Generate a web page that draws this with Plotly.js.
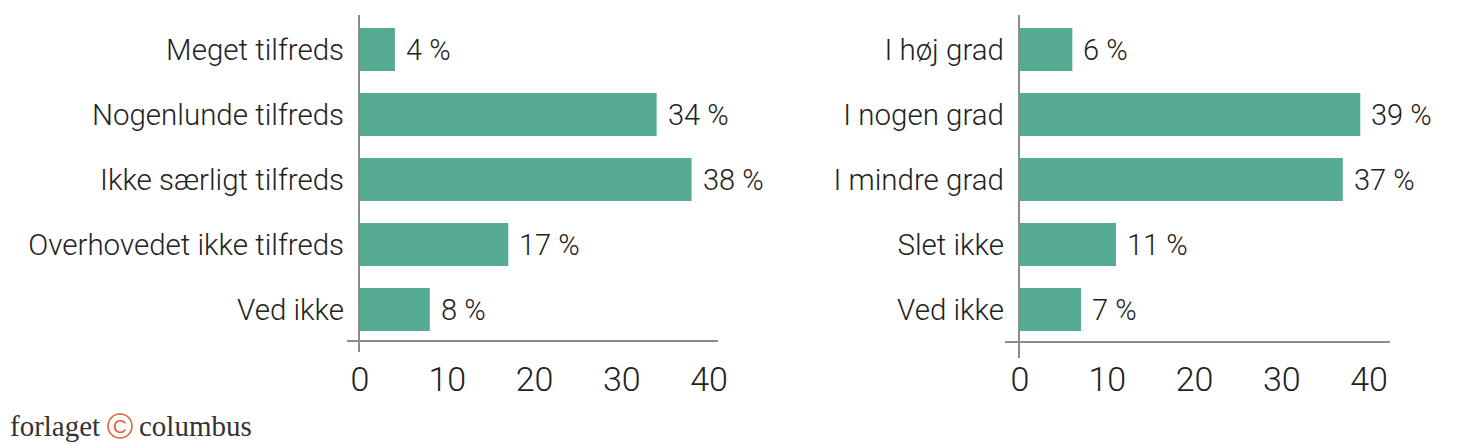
<!DOCTYPE html>
<html>
<head>
<meta charset="utf-8">
<script src="https://cdn.plot.ly/plotly-3.0.1.min.js"></script>
<style>
  html, body { margin: 0; padding: 0; background: #fff; }
  #plot { width: 1479px; height: 444px; }
</style>
</head>
<body>
<div id="plot"></div>
<script>
// data
const leftCats = ["Meget tilfreds", "Nogenlunde tilfreds", "Ikke særligt tilfreds", "Overhovedet ikke tilfreds", "Ved ikke"];
const leftVals = [4, 34, 38, 17, 8];
const rightCats = ["I høj grad", "I nogen grad", "I mindre grad", "Slet ikke", "Ved ikke"];
const rightVals = [6, 39, 37, 11, 7];
const tickVals = [0, 10, 20, 30, 40];

const W = 1479, H = 444;
const barColor = "#56ab94";
const lineColor = "#8c8c8c";
const textColor = "#222222";
const logoColor = "#e0613b";
const labelFont = { family: "Roboto, sans-serif", size: 29, color: textColor, weight: 300 };
const catFont = { family: "Roboto, sans-serif", size: 29.5, color: textColor, weight: 300 };
const tickFont = { family: "Roboto, sans-serif", size: 34, color: textColor, weight: 300 };

// plot area in pixels
const plotTop = 17, plotBottom = 342;
const px = x => x / W;
const py = y => (plotBottom - y) / (plotBottom - plotTop);

const data = [
  {
    type: "bar", orientation: "h",
    x: leftVals, y: leftCats,
    xaxis: "x", yaxis: "y",
    marker: { color: barColor },
    hoverinfo: "none"
  },
  {
    type: "bar", orientation: "h",
    x: rightVals, y: rightCats,
    xaxis: "x2", yaxis: "y2",
    marker: { color: barColor },
    hoverinfo: "none"
  }
];

// value labels beside the bars
const annotations = [];
leftVals.forEach((v, i) => {
  annotations.push({ x: v, y: leftCats[i], xref: "x", yref: "y", text: v + " %",
    showarrow: false, xanchor: "left", xshift: 9, font: labelFont });
});
rightVals.forEach((v, i) => {
  annotations.push({ x: v, y: rightCats[i], xref: "x2", yref: "y2", text: v + " %",
    showarrow: false, xanchor: "left", xshift: 9, font: labelFont });
});

// logo
const logoFont = { family: "Liberation Serif, serif", size: 29, color: "#333" };
annotations.push({ xref: "paper", yref: "paper", x: px(8), y: py(426), xanchor: "left", yanchor: "middle",
  text: "forlaget", showarrow: false, font: logoFont });
annotations.push({ xref: "paper", yref: "paper", x: px(120), y: py(426), xanchor: "center", yanchor: "middle",
  text: "C", showarrow: false, font: { family: "Liberation Sans, sans-serif", size: 19, color: logoColor } });
annotations.push({ xref: "paper", yref: "paper", x: px(137), y: py(426), xanchor: "left", yanchor: "middle",
  text: "columbus", showarrow: false, font: logoFont });

// axis lines, drawn a bit past the plot area as in the original
const axLine = { type: "line", xref: "paper", yref: "paper", line: { color: lineColor, width: 2 } };
const shapes = [
  Object.assign({}, axLine, { x0: px(359), x1: px(359), y0: py(15), y1: py(352) }),
  Object.assign({}, axLine, { x0: px(347), x1: px(718), y0: py(341), y1: py(341) }),
  Object.assign({}, axLine, { x0: px(1019), x1: px(1019), y0: py(15), y1: py(358) }),
  Object.assign({}, axLine, { x0: px(1005), x1: px(1390), y0: py(342), y1: py(342) }),
  // ring of the logo
  { type: "circle", xref: "paper", yref: "paper", x0: px(108), x1: px(132), y0: py(414), y1: py(438),
    line: { color: logoColor, width: 1.6 } }
];

const xBase = {
  range: [0, 40], tickvals: tickVals, showgrid: false, zeroline: false, showline: false,
  ticks: "", ticklabelstandoff: 14, tickfont: tickFont, fixedrange: true
};
const yBase = {
  autorange: "reversed", showgrid: false, zeroline: false, showline: false,
  ticks: "", ticklabelstandoff: 15, tickfont: catFont, fixedrange: true
};

const layout = {
  width: W, height: H,
  margin: { l: 0, r: 0, t: plotTop, b: H - plotBottom },
  paper_bgcolor: "#fff", plot_bgcolor: "#fff",
  showlegend: false,
  bargap: 0.34,
  font: labelFont,
  xaxis: Object.assign({}, xBase, { domain: [px(360), px(709)], anchor: "y" }),
  yaxis: Object.assign({}, yBase, { anchor: "x" }),
  xaxis2: Object.assign({}, xBase, { domain: [px(1020), px(1369)], anchor: "y2" }),
  yaxis2: Object.assign({}, yBase, { anchor: "x2" }),
  annotations: annotations,
  shapes: shapes
};

Plotly.newPlot("plot", data, layout, { displayModeBar: false, staticPlot: true });
</script>
</body>
</html>
